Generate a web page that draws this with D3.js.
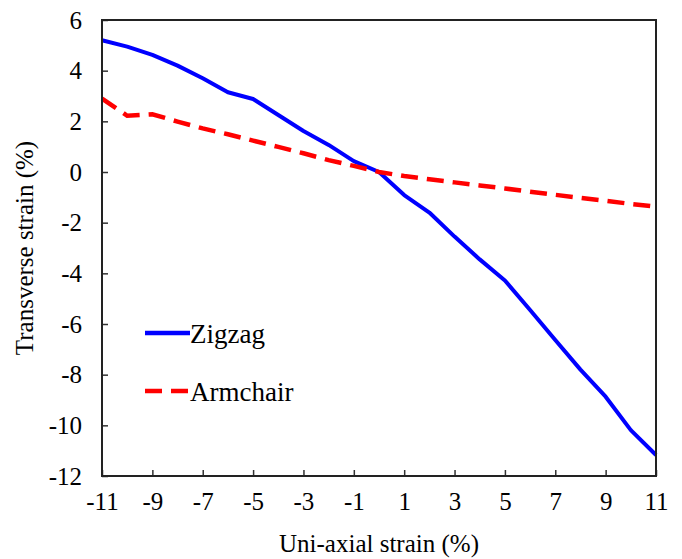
<!DOCTYPE html>
<html><head><meta charset="utf-8">
<script src="https://cdn.jsdelivr.net/npm/d3@7"></script>
<style>body{margin:0;background:#fff}svg{display:block}</style>
</head><body><svg id="c" width="682" height="559"></svg>
<script>
const strain = [-11,-10,-9,-8,-7,-6,-5,-4,-3,-2,-1,0,1,2,3,4,5,6,7,8,9,10,11];
const zigzag = [5.2,4.95,4.62,4.2,3.7,3.15,2.88,2.25,1.62,1.07,0.43,0.0,-0.91,-1.6,-2.55,-3.45,-4.28,-5.45,-6.63,-7.8,-8.87,-10.19,-11.17];
const armchair = [2.9,2.22,2.28,1.99,1.72,1.49,1.24,0.99,0.74,0.47,0.24,0.0,-0.16,-0.29,-0.41,-0.53,-0.65,-0.78,-0.9,-1.02,-1.14,-1.26,-1.37];
const xTicks = [-11,-9,-7,-5,-3,-1,1,3,5,7,9,11];
const yTicks = [6,4,2,0,-2,-4,-6,-8,-10,-12];

const svg = d3.select("#c");
const L=102,T=20,R=656,B=476;
const x = d3.scaleLinear().domain([-11,11]).range([L,R]);
const y = d3.scaleLinear().domain([-12,6]).range([B,T]);
const font = "Liberation Serif, Tinos, Times New Roman, serif";

const line = d3.line().x((d,i)=>x(strain[i])).y(d=>y(d));
svg.append("path").datum(zigzag).attr("d",line).attr("fill","none")
  .attr("stroke","#0000ff").attr("stroke-width",4).attr("stroke-linejoin","round");
svg.append("path").datum(armchair).attr("d",line).attr("fill","none")
  .attr("stroke","#ff0000").attr("stroke-width",4.5).attr("stroke-dasharray","17,9");

const ax = svg.append("g").attr("transform",`translate(0,${B})`)
  .call(d3.axisBottom(x).tickValues(xTicks).tickFormat(d=>String(d)).tickSizeInner(-6).tickSizeOuter(0).tickPadding(16));
const ay = svg.append("g").attr("transform",`translate(${L},0)`)
  .call(d3.axisLeft(y).tickValues(yTicks).tickFormat(d=>String(d)).tickSizeInner(-6).tickSizeOuter(0).tickPadding(20));
[ax,ay].forEach(g=>{
  g.attr("font-family",null);
  g.select(".domain").remove();
  g.selectAll("line").attr("stroke","#333").attr("stroke-width",1.5);
  g.selectAll("text").style("font-family",font).attr("font-size",25).attr("fill","#000");
});
svg.append("rect").attr("x",L).attr("y",T).attr("width",R-L).attr("height",B-T)
  .attr("fill","none").attr("stroke","#222").attr("stroke-width",2);

svg.append("text").attr("x",(L+R)/2).attr("y",552).attr("text-anchor","middle")
  .style("font-family",font).attr("font-size",25).text("Uni-axial strain (%)");
svg.append("text").attr("transform",`translate(33,${(T+B)/2}) rotate(-90)`).attr("text-anchor","middle")
  .style("font-family",font).attr("font-size",25).text("Transverse strain (%)");

const leg = [{name:"Zigzag",c:"#0000ff",d:null,y:333},{name:"Armchair",c:"#ff0000",d:"17,9",y:391}];
leg.forEach(l=>{
  svg.append("line").attr("x1",145).attr("x2",190).attr("y1",l.y).attr("y2",l.y)
    .attr("stroke",l.c).attr("stroke-width",4.5).attr("stroke-dasharray",l.d);
  svg.append("text").attr("x",190).attr("y",l.y+10).style("font-family",font)
    .attr("font-size",27).text(l.name);
});
</script></body></html>
